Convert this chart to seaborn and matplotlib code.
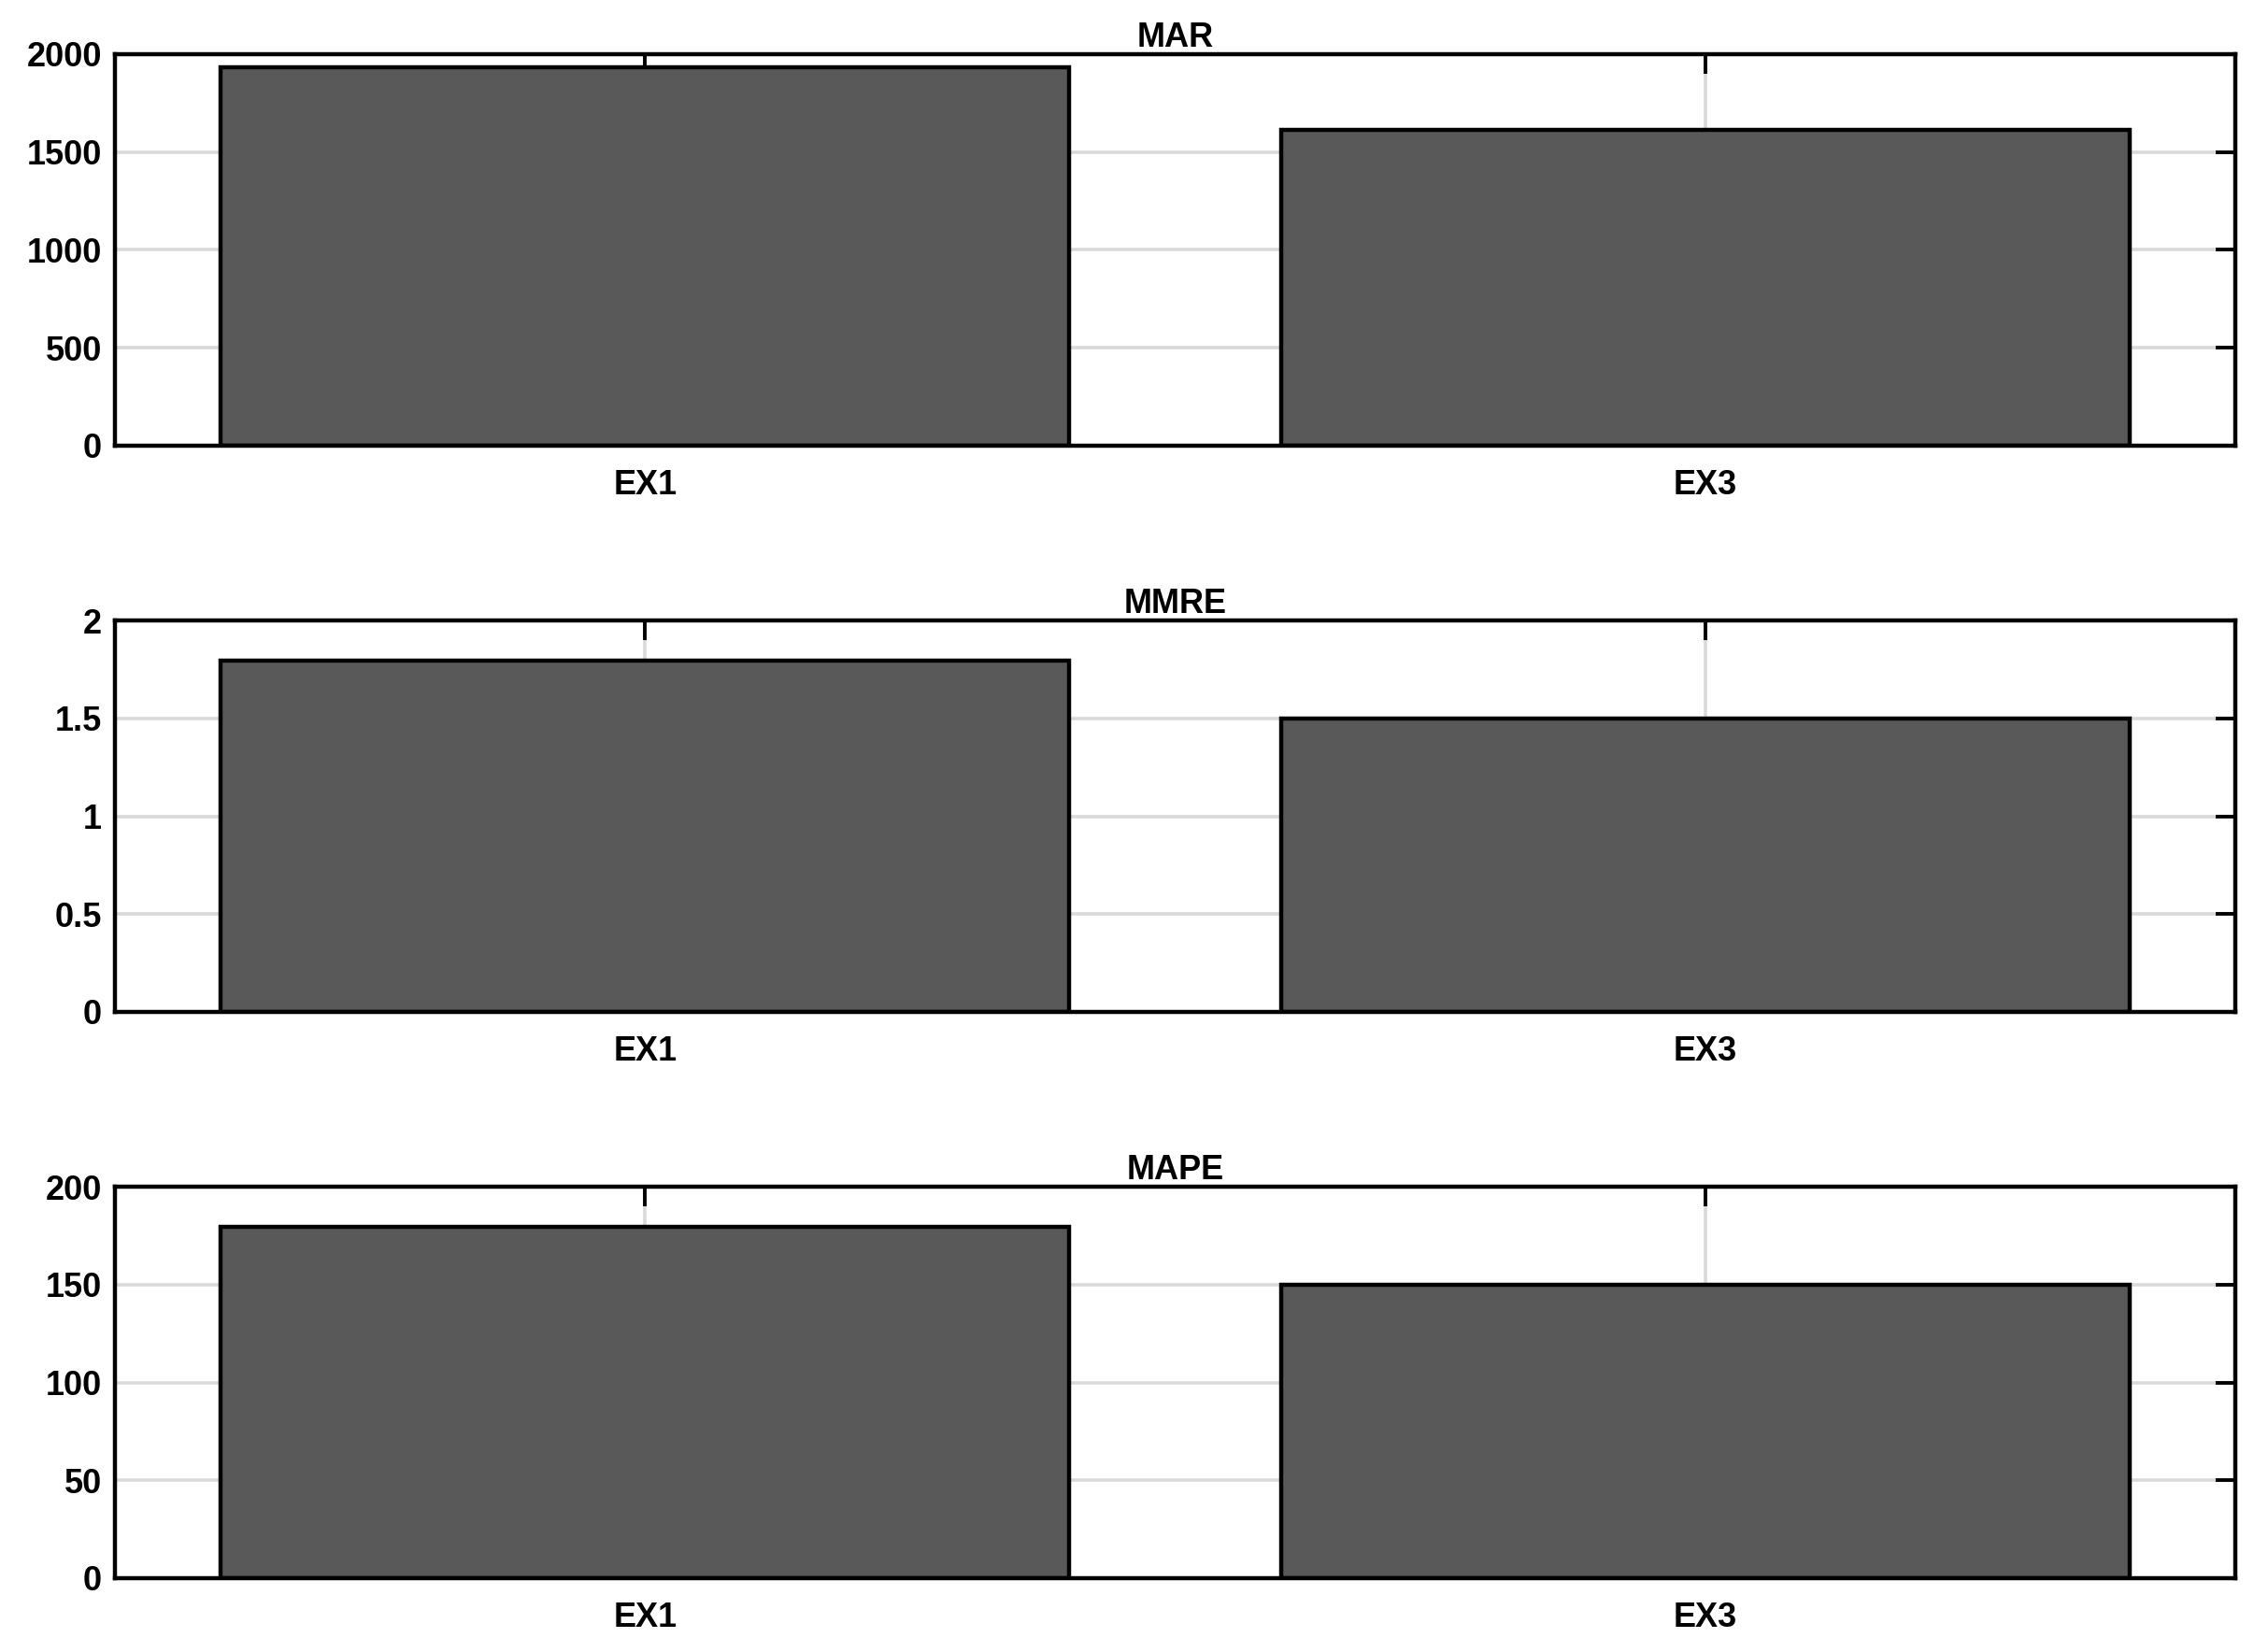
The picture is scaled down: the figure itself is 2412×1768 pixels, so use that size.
import matplotlib
matplotlib.use("Agg")
import matplotlib.pyplot as plt
import seaborn as sns
import pandas as pd

categories = ["EX1", "EX3"]
mar_values = [1935, 1612]
mmre_values = [1.795, 1.5]
mape_values = [179.5, 150]
titles = ["MAR", "MMRE", "MAPE"]
y_limits = [(0, 2000), (0, 2), (0, 200)]
y_ticks = [[0, 500, 1000, 1500, 2000], [0, 0.5, 1, 1.5, 2], [0, 50, 100, 150, 200]]
y_ticklabels = [["0", "500", "1000", "1500", "2000"],
                ["0", "0.5", "1", "1.5", "2"],
                ["0", "50", "100", "150", "200"]]

sns.set_theme(style="white")
plt.rcParams["font.family"] = ["Liberation Sans", "DejaVu Sans"]
plt.rcParams["font.weight"] = "bold"

fig = plt.figure(figsize=(12.06, 8.84), dpi=200)
W, H = 2412, 1768
rects = [(123, 58, 2392, 477), (123, 664, 2392, 1083), (123, 1270, 2392, 1689)]
FS = 13

series = [mar_values, mmre_values, mape_values]
for i, (vals, title) in enumerate(zip(series, titles)):
    x0, y0, x1, y1 = rects[i]
    ax = fig.add_axes([x0 / W, 1 - y1 / H, (x1 - x0) / W, (y1 - y0) / H])
    df = pd.DataFrame({"cat": categories, "val": vals})
    ax.set_axisbelow(True)
    sns.barplot(data=df, x="cat", y="val", ax=ax, color="#595959",
                edgecolor="black", linewidth=1.6, width=0.8, saturation=1)
    ax.grid(True, color="#d9d9d9", linewidth=1.3)
    ax.set_xlim(-0.5, 1.5)
    ax.set_ylim(*y_limits[i])
    ax.set_yticks(y_ticks[i])
    ax.set_yticklabels(y_ticklabels[i], fontsize=FS, fontweight="bold")
    ax.set_xticks([0, 1])
    ax.set_xticklabels(categories, fontsize=FS, fontweight="bold")
    ax.set_xlabel("")
    ax.set_ylabel("")
    ax.set_title(title, fontsize=FS, fontweight="bold", color="black", pad=3)
    ax.tick_params(direction="in", top=True, right=True, length=7.5, width=1.4,
                   colors="black")
    ax.tick_params(axis="x", pad=9)
    ax.tick_params(axis="y", pad=5)
    for s in ax.spines.values():
        s.set_visible(True)
        s.set_color("black")
        s.set_linewidth(1.6)

fig.savefig("out.png", dpi=200, facecolor="white")
